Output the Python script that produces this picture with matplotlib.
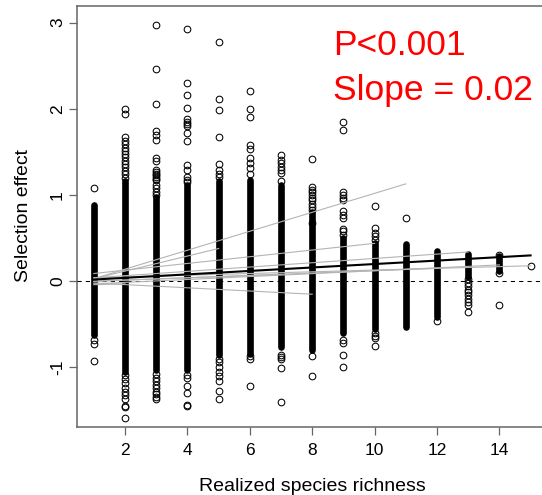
import numpy as np
import matplotlib
matplotlib.use("Agg")
import matplotlib.pyplot as plt

plt.rcParams['font.family'] = ['Liberation Sans', 'DejaVu Sans']
plt.rcParams['axes.unicode_minus'] = False

# realized richness levels and the solid (densely overplotted) range of each column
richness = [1, 2, 3, 4, 5, 6, 7, 8, 9, 10, 11, 12, 13, 14, 15]
dense_lo = [-0.62, -1.05, -1.03, -1.03, -0.85, -0.84, -0.76, -0.80, -0.60, -0.55, -0.53, -0.42, 0.05, 0.12, None]
dense_hi = [0.88, 1.16, 0.98, 1.12, 1.16, 1.17, 1.12, 0.80, 0.50, 0.44, 0.43, 0.35, 0.32, 0.29, None]

# individual points outside the solid ranges
outliers = [
    [1.08, -0.68, -0.73, -0.92],
    [2.0, 1.94, 1.67, 1.63, 1.59, 1.55, 1.51, 1.48, 1.44, 1.40, 1.36, 1.32, 1.28, 1.24, 1.20,
     -1.09, -1.13, -1.18, -1.24, -1.28, -1.32, -1.36, -1.45, -1.46, -1.59],
    [2.97, 2.46, 2.06, 1.74, 1.70, 1.64, 1.43, 1.40, 1.29, 1.27, 1.25, 1.23, 1.21, 1.19, 1.17,
     1.12, 1.08, 1.04, 1.00,
     -1.07, -1.12, -1.16, -1.20, -1.24, -1.28, -1.31, -1.34, -1.37],
    [2.93, 2.30, 2.16, 2.01, 1.88, 1.85, 1.83, 1.80, 1.72, 1.63, 1.35, 1.29, 1.21, 1.18, 1.15,
     -1.09, -1.12, -1.22, -1.30, -1.44, -1.45],
    [2.78, 2.11, 1.99, 1.67, 1.36, 1.29, 1.24, 1.21,
     -0.90, -0.94, -1.00, -1.05, -1.10, -1.16, -1.27, -1.37],
    [2.21, 2.00, 1.91, 1.58, 1.54, 1.43, 1.37, 1.31, 1.25, -0.87, -0.90, -1.21],
    [1.46, 1.41, 1.37, 1.33, 1.29, 1.26, 1.16, -0.85, -0.88, -0.90, -1.01, -1.40],
    [1.42, 1.09, 1.06, 1.03, 1.00, 0.97, 0.94, 0.90, 0.86, 0.83, 0.68, -0.87, -1.10],
    [1.85, 1.76, 1.04, 1.00, 0.97, 0.94, 0.81, 0.77, 0.73, 0.61, 0.58, 0.54,
     -0.68, -0.72, -0.85, -1.00],
    [0.87, 0.62, 0.56, 0.53, 0.48, -0.60, -0.63, -0.66, -0.75],
    [0.73],
    [-0.46],
    [0.03, -0.02, -0.06, -0.10, -0.13, -0.16, -0.20, -0.24, -0.28, -0.36],
    [0.31, 0.10, -0.28],
    [0.18],
]

# per-group fitted lines (start x, start y, end x, end y)
group_x0 = [1, 1, 1, 1, 1, 1, 1, 1, 1, 1]
group_y0 = [0.03, 0.03, 0.09, 0.04, 0.04, -0.03, 0.00, -0.02, 0.00, -0.04]
group_x1 = [11, 5, 10, 13, 15, 14, 12, 8, 7, 2]
group_y1 = [1.13, 0.38, 0.44, 0.34, 0.18, 0.19, 0.15, -0.15, 0.08, -0.03]

# overall fit
fit_x = [1, 15]
fit_y = [0.02, 0.30]

fig = plt.figure(figsize=(5.42, 4.95), dpi=100)
ax = fig.add_axes([0.1415, 0.138, 0.8696, 0.8505])

# solid parts of each column
for x, lo, hi in zip(richness, dense_lo, dense_hi):
    if lo is None:
        continue
    ax.plot([x, x], [lo, hi], color='black', lw=4.8, solid_capstyle='round', zorder=2)

# open circles
for x, ys in zip(richness, outliers):
    ax.plot([x] * len(ys), ys, 'o', mfc='none', mec='black', ms=4.8, mew=0.75, zorder=3)

ax.axhline(0, color='black', lw=0.75, ls=(0, (4, 4)), zorder=4)

for x0, y0, x1, y1 in zip(group_x0, group_y0, group_x1, group_y1):
    ax.plot([x0, x1], [y0, y1], color='#b4b4b4', lw=0.8, zorder=5)

ax.plot(fit_x, fit_y, color='black', lw=1.5, zorder=6)

ax.set_xlim(0.452, 15.558)
ax.set_ylim(-1.687, 3.197)
ax.set_xticks([2, 4, 6, 8, 10, 12, 14])
ax.set_yticks([-1, 0, 1, 2, 3])
ax.tick_params(axis='both', length=5.5, width=0.9, color='#666666', labelsize=12.5)
ax.tick_params(axis='x', pad=6)
ax.tick_params(axis='y', pad=3)
for lab in ax.get_yticklabels():
    lab.set_rotation(90)
    lab.set_va('center')
for sp in ax.spines.values():
    sp.set_color('#666666')
    sp.set_linewidth(1.1)

fig.text(312 / 542, 1 - 491 / 495, 'Realized species richness', ha='center', va='baseline', fontsize=14)
fig.text(28 / 542, 1 - 216 / 495, 'Selection effect', rotation=90, rotation_mode='anchor',
         ha='center', va='baseline', fontsize=14)

fig.text(333 / 542, 1 - 55 / 495, 'P<0.001', color='red', fontsize=25.5, va='baseline', ha='left')
fig.text(333 / 542, 1 - 100 / 495, 'Slope = 0.02', color='red', fontsize=25.5, va='baseline', ha='left')

fig.savefig('out.png', dpi=100)
